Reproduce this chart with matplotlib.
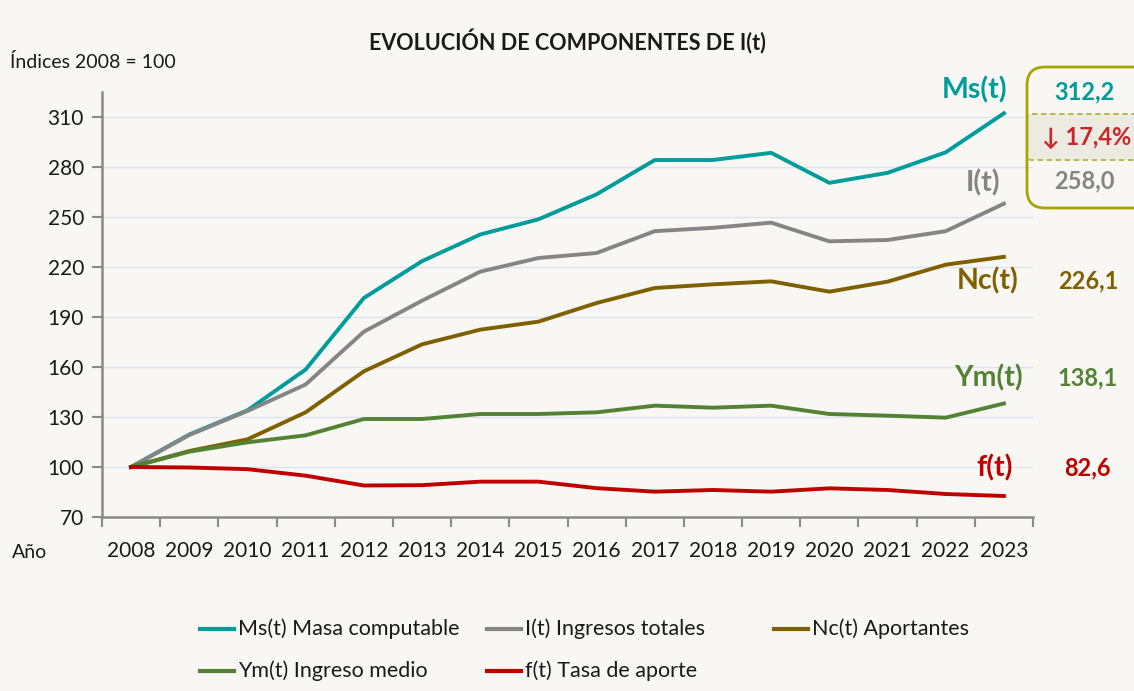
import matplotlib
matplotlib.use("Agg")
import matplotlib.pyplot as plt
from matplotlib.lines import Line2D
from matplotlib.patches import FancyBboxPatch
import numpy as np

plt.rcParams['font.family'] = ['Lato', 'DejaVu Sans']

years = [str(y) for y in range(2008, 2024)]
ms = [100, 119.5, 134, 158.5, 201.4, 223.5, 239.5, 248.6, 263.6, 284.2, 284.2, 288.5, 270.5, 276.5, 288.8, 312.2]
it = [100, 119.2, 133.6, 149.5, 181.2, 199.8, 217.2, 225.4, 228.4, 241.5, 243.5, 246.6, 235.4, 236.2, 241.5, 258.0]
nc = [100, 109.6, 116.6, 132.8, 157.4, 173.6, 182.4, 187.2, 198.4, 207.4, 209.6, 211.4, 205.2, 211.2, 221.4, 226.1]
ym = [100, 109.2, 114.8, 119.0, 128.8, 128.8, 131.8, 131.8, 132.8, 136.8, 135.6, 136.8, 131.8, 130.8, 129.6, 138.1]
ft = [100, 99.7, 98.7, 94.8, 88.9, 89.1, 91.2, 91.2, 87.3, 85.2, 86.2, 85.2, 87.2, 86.2, 83.8, 82.6]

series_names = ['Ms(t) Masa computable', 'I(t) Ingresos totales', 'Nc(t) Aportantes',
                'Ym(t) Ingreso medio', 'f(t) Tasa de aporte']
short_names = ['Ms(t)', 'I(t)', 'Nc(t)', 'Ym(t)', 'f(t)']
end_labels = ['312,2', '258,0', '226,1', '138,1', '82,6']
change_label = '↓ 17,4%'
yticks = [70, 100, 130, 160, 190, 220, 250, 280, 310]

colors = ['#009B9B', '#858585', '#7F6000', '#548235', '#C00000']
bg = '#F8F7F3'
W, H = 1134, 691

fig = plt.figure(figsize=(11.34, 6.91), dpi=100, facecolor=bg)
ax = fig.add_axes([102/W, 1-517/H, (1033-102)/W, (517-92)/H])
ax.set_facecolor(bg)

x = np.arange(len(years))
data = [ms, it, nc, ym, ft]
for vals, c in zip(data, colors):
    ax.plot(x, vals, color=c, lw=2.8, zorder=3)

ax.set_xlim(-0.5, len(years) - 0.5)
ax.set_ylim(70, 325)
ax.set_yticks(yticks)
ax.set_yticklabels([str(v) for v in yticks])
ax.set_xticks(x)
ax.set_xticklabels(years)
ax.set_xticks(np.arange(-0.5, len(years), 1), minor=True)
ax.tick_params(axis='x', which='major', length=0, pad=17, labelsize=15, colors='#1a1a1a')
ax.tick_params(axis='x', which='minor', length=7, width=1.5, color='#8a8a8a', direction='out')
ax.tick_params(axis='y', which='major', length=7, width=1.5, color='#8a8a8a', labelsize=15,
               labelcolor='#1a1a1a', pad=6)
ax.grid(axis='y', color='#DCE3EE', lw=1, zorder=0)
for s in ['top', 'right']:
    ax.spines[s].set_visible(False)
for s in ['left', 'bottom']:
    ax.spines[s].set_color('#8a8a8a')
    ax.spines[s].set_linewidth(1.8)

# Overlay axes in pixel coordinates for annotations
ov = fig.add_axes([0, 0, 1, 1], facecolor='none')
ov.set_xlim(0, W)
ov.set_ylim(H, 0)
ov.axis('off')

# Title & axis labels
ov.text(567, 42, 'EVOLUCIÓN DE COMPONENTES DE I(t)', ha='center', va='center',
        fontsize=15.5, fontweight='bold', color='#1a1a1a')
ov.text(10, 62, 'Índices 2008 = 100', ha='left', va='center', fontsize=14, color='#1a1a1a')
ov.text(12, 553, 'Año', ha='left', va='center', fontsize=14, color='#1a1a1a')

# Series labels near lines
lab_pos = [(975, 90), (983, 183), (988, 281), (988, 378), (995, 468)]
val_pos = [(1084, 92), (1084, 181), (1088, 281), (1088, 378), (1087, 468)]
for name, (px, py), c in zip(short_names, lab_pos, colors):
    ov.text(px, py, name, ha='center', va='center', fontsize=20.5,
            fontweight='bold', color=c)
for v, (px, py), c in zip(end_labels, val_pos, colors):
    ov.text(px, py, v, ha='center', va='center', fontsize=17,
            fontweight='bold', color=c)

# Box around Ms / I values
outer = FancyBboxPatch((1027, 67), 170, 141,
                       boxstyle='round,pad=0,rounding_size=18',
                       facecolor='none', edgecolor='#A9A400', lw=2, zorder=5,
                       clip_on=False)
ov.add_patch(outer)
inner = FancyBboxPatch((1027, 114), 170, 46,
                       boxstyle='round,pad=0,rounding_size=5',
                       facecolor='#EDEBE1', edgecolor='#B8B23A',
                       lw=1.3, ls=(0, (3, 2)), zorder=4, clip_on=False)
ov.add_patch(inner)
ov.text(1087, 137, change_label, ha='center', va='center', fontsize=17,
        fontweight='bold', color='#C8262A', zorder=6)

# Legend (manual, row-wise like the original)
leg_pos = [(200, 629), (487, 629), (774, 629), (200, 671), (487, 671)]
for name, (px, py), c in zip(series_names, leg_pos, colors):
    ov.add_line(Line2D([px, px + 34], [py, py], color=c, lw=3))
    ov.text(px + 38, py, name, ha='left', va='center', fontsize=15.5, color='#1a1a1a')

fig.savefig('out.png', dpi=100, facecolor=bg)
